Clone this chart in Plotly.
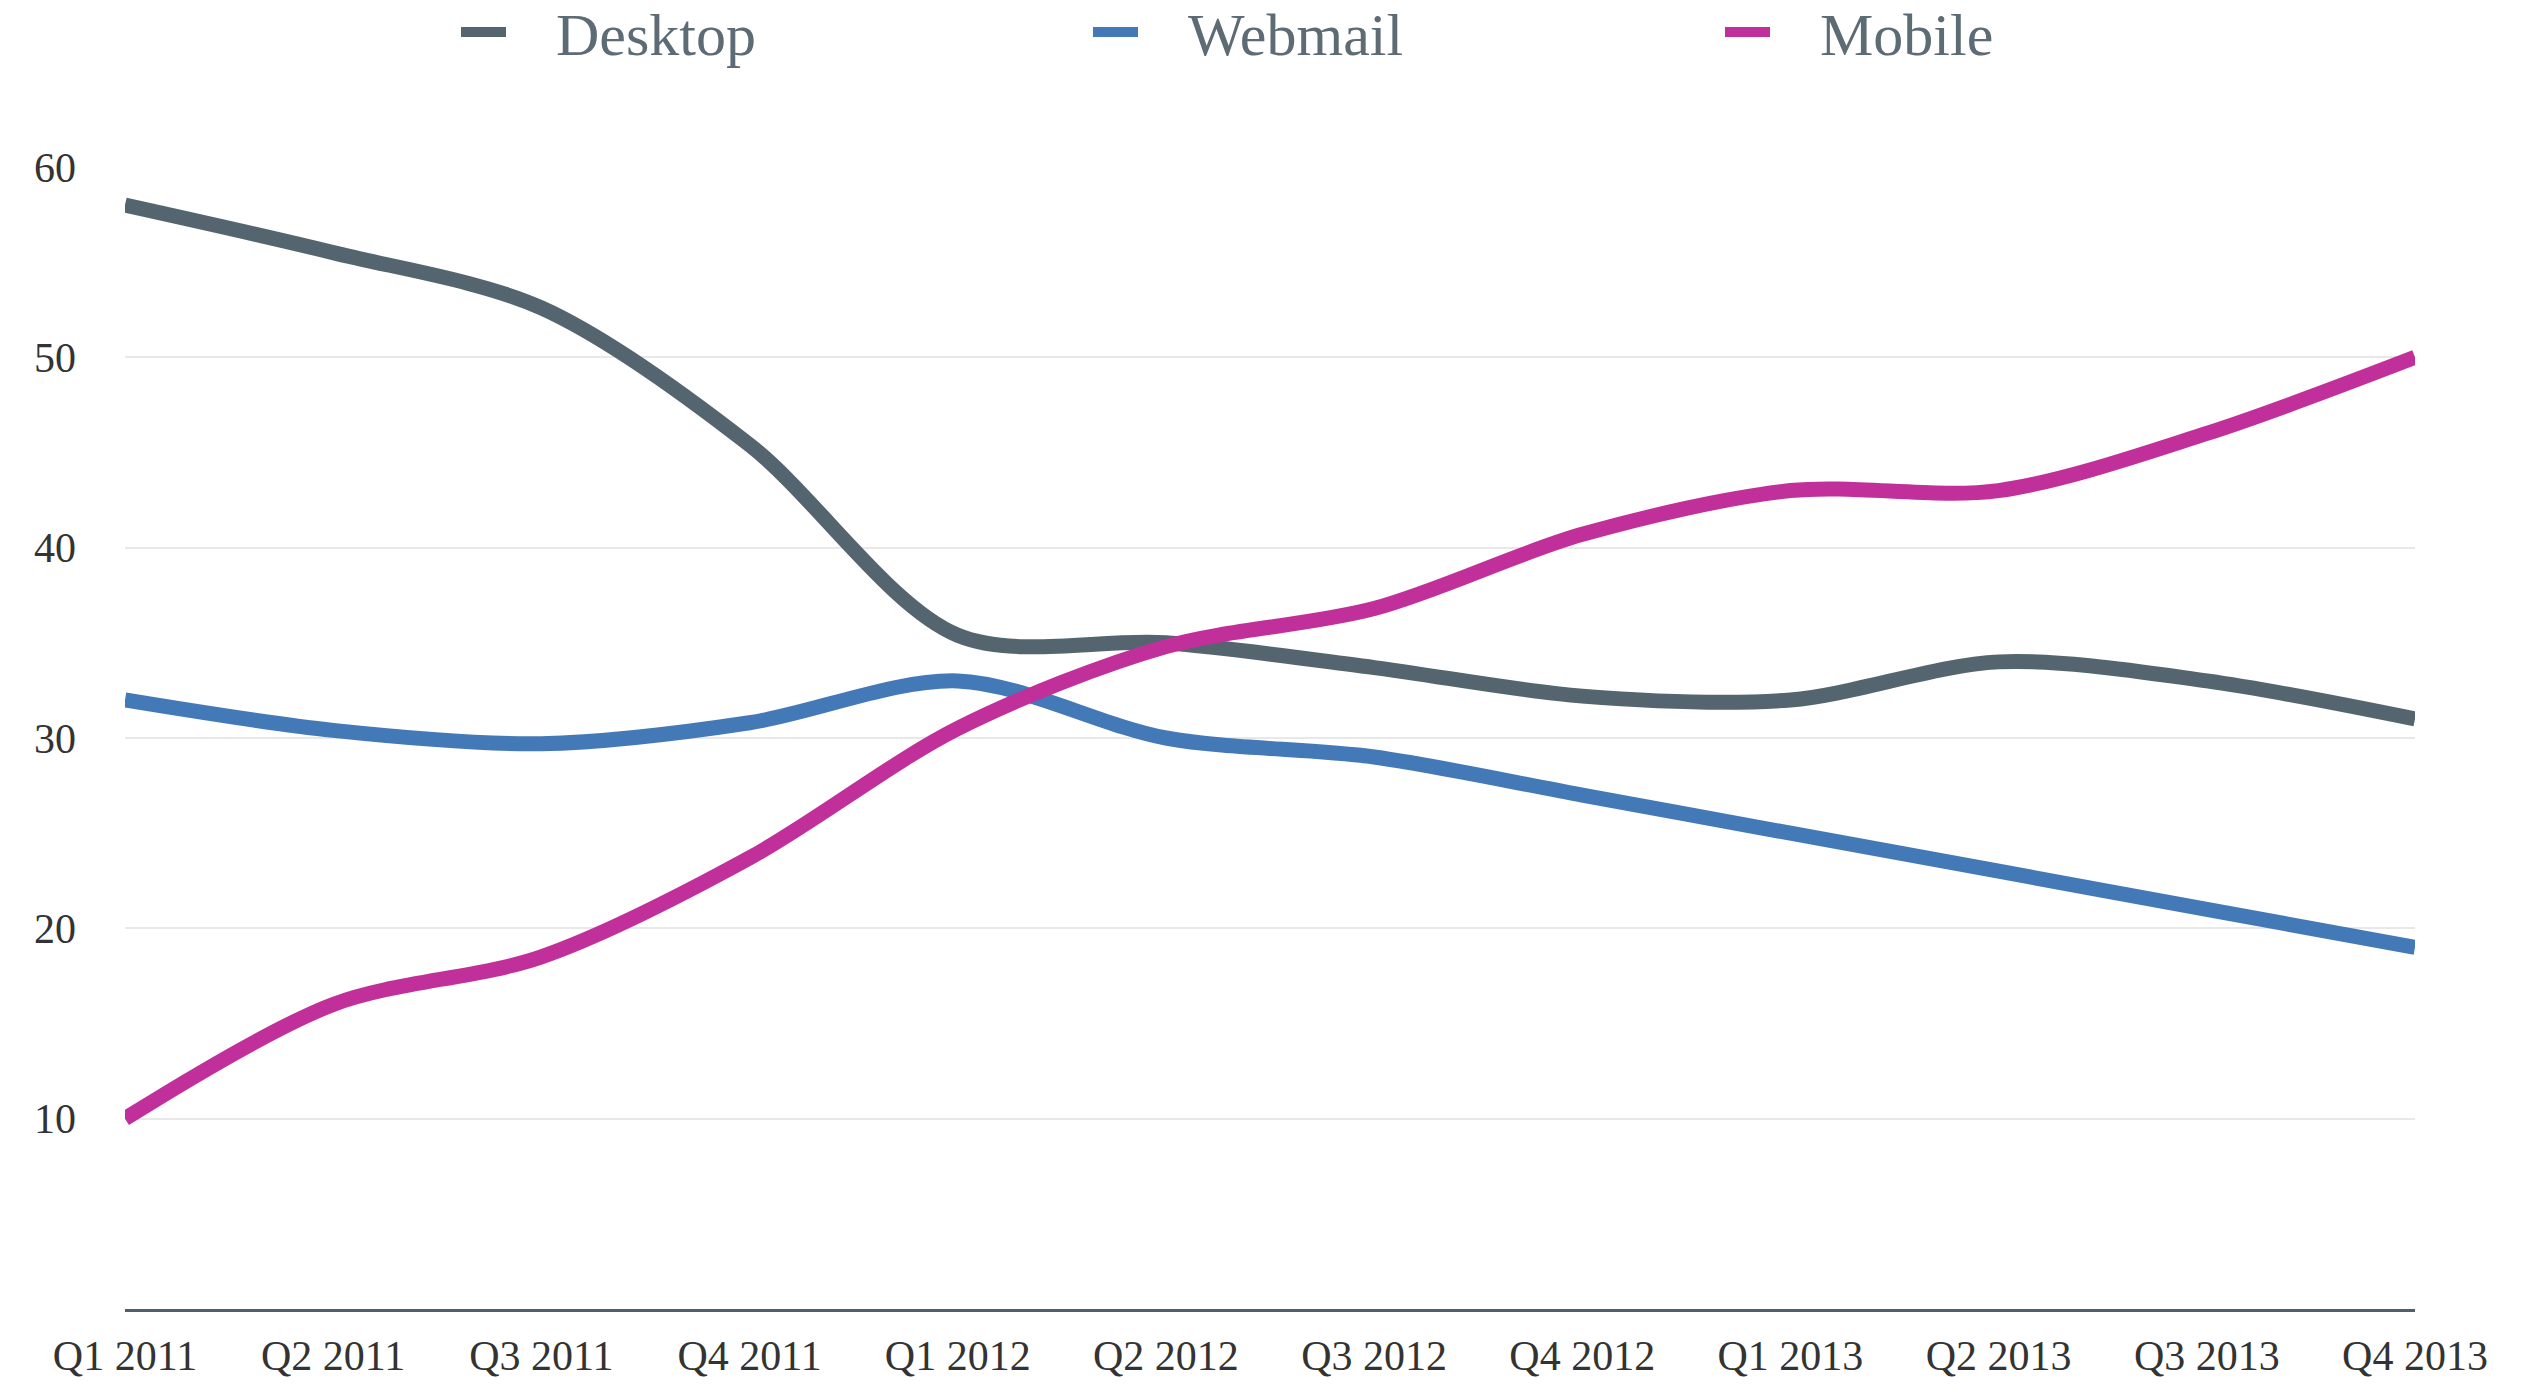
import plotly.graph_objects as go

quarters = ["Q1 2011", "Q2 2011", "Q3 2011", "Q4 2011", "Q1 2012", "Q2 2012",
            "Q3 2012", "Q4 2012", "Q1 2013", "Q2 2013", "Q3 2013", "Q4 2013"]
desktop = [58, 55.5, 52.6, 45.4, 35.4, 35, 33.7, 32.2, 32, 34, 33, 31]
webmail = [32, 30.4, 29.7, 30.8, 33, 30, 29, 27, 25, 23, 21, 19]
mobile = [10, 16, 18.5, 23.7, 30.5, 34.8, 36.8, 40.7, 43, 43, 46, 50]
y_ticks = [10, 20, 30, 40, 50, 60]
series_names = ["Desktop", "Webmail", "Mobile"]
series_colors = ["#55656f", "#4479b8", "#c1309a"]

fig = go.Figure()
for name, vals, color in zip(series_names, [desktop, webmail, mobile], series_colors):
    fig.add_trace(go.Scatter(
        x=quarters, y=vals, name="\u00a0\u00a0\u00a0" + name, mode="lines",
        line=dict(color=color, width=15, shape="spline", smoothing=0.9),
    ))

W, H = 2536, 1387
fig.update_layout(
    width=W, height=H,
    margin=dict(l=125, r=121, t=167, b=78, autoexpand=False),
    paper_bgcolor="white", plot_bgcolor="white",
    font=dict(family="Liberation Serif", color="#333333", size=42),
    showlegend=True,
    legend=dict(orientation="h", xref="container", yref="container",
                x=456 / W, xanchor="left", y=1 - 32 / H, yanchor="middle",
                font=dict(size=60, color="#5d6b75", family="Liberation Serif"),
                entrywidth=572, entrywidthmode="pixels",
                itemwidth=45, bgcolor="rgba(0,0,0,0)"),
    xaxis=dict(type="category", range=[0, 11], showgrid=False, zeroline=False,
               showline=True, linecolor="#4f5f6d", linewidth=3,
               ticks="", ticklabelstandoff=8,
               tickfont=dict(size=42, color="#333333")),
    yaxis=dict(range=[0, 60], tickvals=y_ticks, ticktext=[str(v) for v in y_ticks],
               showgrid=True, gridcolor="#e8e8e8", gridwidth=2,
               zeroline=False, showline=False, ticks="",
               ticklabelstandoff=48,
               tickfont=dict(size=42, color="#333333")),
)

fig.write_html("out.html")
